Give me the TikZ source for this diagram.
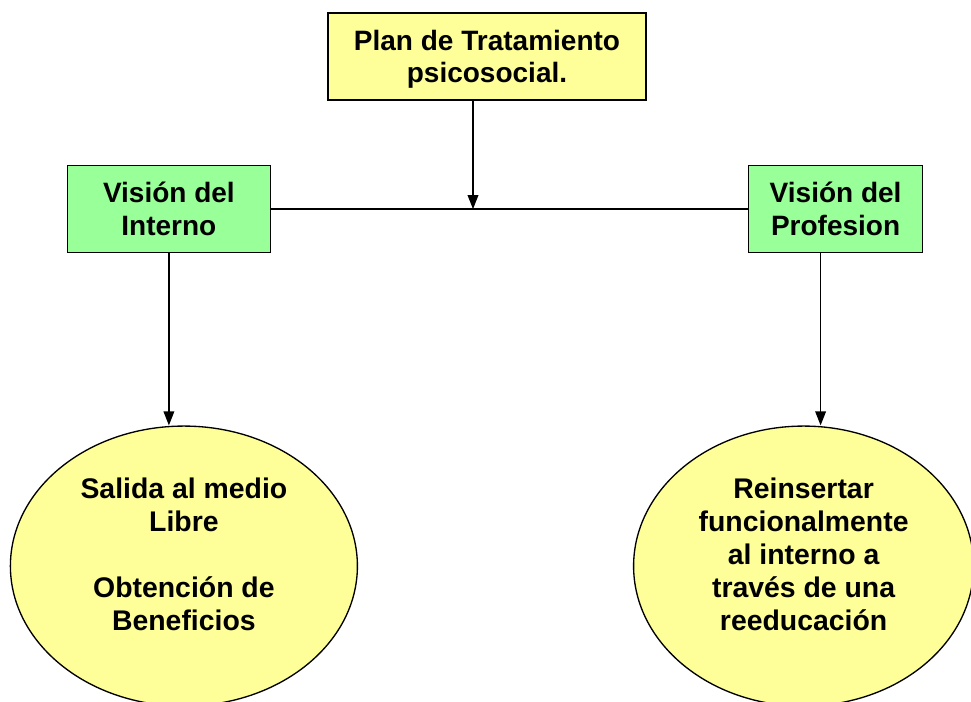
\documentclass[tikz,border=0pt]{standalone}
\usepackage{fontspec}
\setmainfont{Liberation Sans}
\usepackage{xcolor}
\usepackage{tikz}
\usetikzlibrary{positioning,shapes,arrows.meta}

\definecolor{planyellow}{HTML}{FFFF99}
\definecolor{visiongreen}{HTML}{99FF99}

\begin{document}
\begin{tikzpicture}[node distance=2cm, auto]

    % Define styles
    \tikzstyle{planbox} = [rectangle, draw, line width=1.2pt, fill=planyellow, align=center, minimum width=238.5pt, minimum height=65.25pt, inner sep=0pt, text depth=0pt, font=\fontsize{21}{24.5}\selectfont\bfseries]
    \tikzstyle{vision} = [rectangle, draw, line width=1.2pt, fill=visiongreen, align=center, minimum height=65.25pt, inner sep=0pt, font=\fontsize{21}{24.5}\selectfont\bfseries]
    \tikzstyle{goal} = [ellipse, draw, line width=1pt, fill=planyellow, align=center, minimum height=210pt, inner sep=0pt, text depth=18pt, font=\fontsize{21.3}{24.75}\selectfont\bfseries]
    \tikzstyle{flow} = [line width=1pt, -{Triangle[length=10.5pt, width=8pt]}]

    \useasboundingbox (0,0) rectangle (728.25pt,-526.5pt);

    % Top
    \node [planbox] (plan) at (365.25pt,-42.375pt) {Plan de Tratamiento\\psicosocial.};

    % Two views
    \node [vision, minimum width=152.25pt, below left=48pt and 42pt of plan] (interno) {Visión del\\Interno};
    \node [vision, minimum width=130.5pt, below right=48pt and 75.75pt of plan] (profesion) {Visión del\\Profesion};

    % Goals
    \node [goal, minimum width=260.25pt, below=129pt of interno, xshift=11.25pt] (salida) {Salida al medio\\Libre\\[24.75pt]Obtención de\\Beneficios};
    \node [goal, minimum width=255pt, below=129pt of profesion, xshift=-24pt] (reinsertar) {Reinsertar\\funcionalmente\\al interno a\\través de una\\reeducación};

    % Flows
    \draw [line width=1pt] (interno) -- (profesion);
    \draw [flow] ([xshift=-10.5pt]plan.south) -- ([xshift=-10.5pt]plan.south |- interno.east);
    \draw [flow] (interno.south) -- (interno.south |- salida.north);
    \draw [flow] ([xshift=-11.25pt]profesion.south) -- ([xshift=-11.25pt]profesion.south |- reinsertar.north);

\end{tikzpicture}
\end{document}
